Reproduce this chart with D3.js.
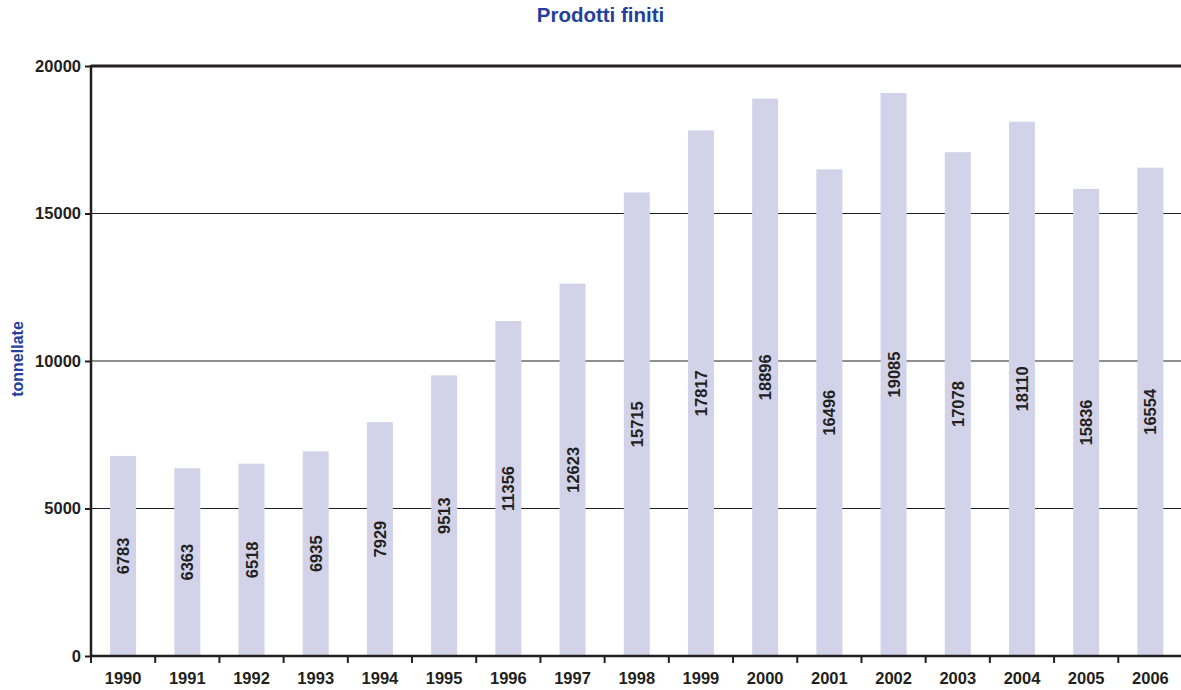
<!DOCTYPE html>
<html>
<head>
<meta charset="utf-8">
<script src="https://cdn.jsdelivr.net/npm/d3@7"></script>
<style>
html,body{margin:0;padding:0;background:#fff;}
svg{display:block;}
text{font-family:"Liberation Sans",Arial,Helvetica,sans-serif;font-weight:bold;}
</style>
</head>
<body>
<svg id="chart" width="1181" height="690"></svg>
<script>
const years = ["1990","1991","1992","1993","1994","1995","1996","1997","1998","1999","2000","2001","2002","2003","2004","2005","2006"];
const values = [6783,6363,6518,6935,7929,9513,11356,12623,15715,17817,18896,16496,19085,17078,18110,15836,16554];
const yTicks = [0,5000,10000,15000,20000];
const title = "Prodotti finiti";
const yLabel = "tonnellate";

(function(){
const svg = d3.select("#chart");
const pLeft = 91, pRight = 1182.5, pTop = 66, pBottom = 656;
const dark = "#231f20";

const x = d3.scaleBand().domain(years).range([pLeft, pRight]).paddingInner(0.595).paddingOuter(0.2975);
const xb = d3.scaleBand().domain(years).range([pLeft, pRight]);
const y = d3.scaleLinear().domain([0, 20000]).range([pBottom, pTop]);

// gridlines
svg.append("g").selectAll("line").data(yTicks.filter(d => d > 0)).join("line")
  .attr("x1", pLeft).attr("x2", 1181)
  .attr("y1", d => y(d)).attr("y2", d => y(d))
  .attr("stroke", dark)
  .attr("stroke-width", d => d === 20000 ? 3 : 1.2);

// bars
svg.append("g").selectAll("rect").data(values).join("rect")
  .attr("x", (d, i) => x(years[i]))
  .attr("width", x.bandwidth())
  .attr("y", d => y(d))
  .attr("height", d => pBottom - y(d))
  .attr("fill", "#d2d3e9");

// bar labels
svg.append("g").selectAll("text").data(values).join("text")
  .attr("transform", (d, i) => `translate(${x(years[i]) + x.bandwidth()/2 + 6},${(y(d) + pBottom)/2}) rotate(-90)`)
  .attr("text-anchor", "middle")
  .attr("font-size", 16.5)
  .attr("fill", dark)
  .text(d => d);

// y axis
const yAxis = svg.append("g").attr("transform", `translate(${pLeft},0)`)
  .call(d3.axisLeft(y).tickValues(yTicks).tickSize(6).tickPadding(4).tickFormat(d3.format("d")));
yAxis.select(".domain").remove();
yAxis.selectAll(".tick line").attr("stroke", dark).attr("stroke-width", 2);
yAxis.selectAll(".tick text").attr("font-size", 16.5).attr("fill", dark)
  .attr("font-family", "Liberation Sans, Arial, sans-serif").attr("font-weight", "bold");
svg.append("line").attr("x1", pLeft).attr("x2", pLeft).attr("y1", pTop - 1).attr("y2", pBottom + 1)
  .attr("stroke", dark).attr("stroke-width", 2.5);

// x axis
svg.append("line").attr("x1", pLeft).attr("x2", 1181).attr("y1", pBottom).attr("y2", pBottom)
  .attr("stroke", dark).attr("stroke-width", 2.5);
svg.append("g").selectAll("line").data(years).join("line")
  .attr("x1", d => xb(d)).attr("x2", d => xb(d))
  .attr("y1", pBottom).attr("y2", pBottom + 7)
  .attr("stroke", dark).attr("stroke-width", 2);
svg.append("g").selectAll("text").data(years).join("text")
  .attr("x", d => xb(d) + xb.bandwidth()/2)
  .attr("y", pBottom + 28)
  .attr("text-anchor", "middle")
  .attr("font-size", 16.5)
  .attr("fill", dark)
  .text(d => d);

// title
svg.append("text").attr("x", 600.5).attr("y", 22).attr("text-anchor", "middle")
  .attr("font-size", 20.5).attr("fill", "#25409a").text(title);

// y label
svg.append("text").attr("transform", "translate(23,359) rotate(-90)").attr("text-anchor", "middle")
  .attr("font-size", 16).attr("fill", "#25409a").text(yLabel);
})();
</script>
</body>
</html>
